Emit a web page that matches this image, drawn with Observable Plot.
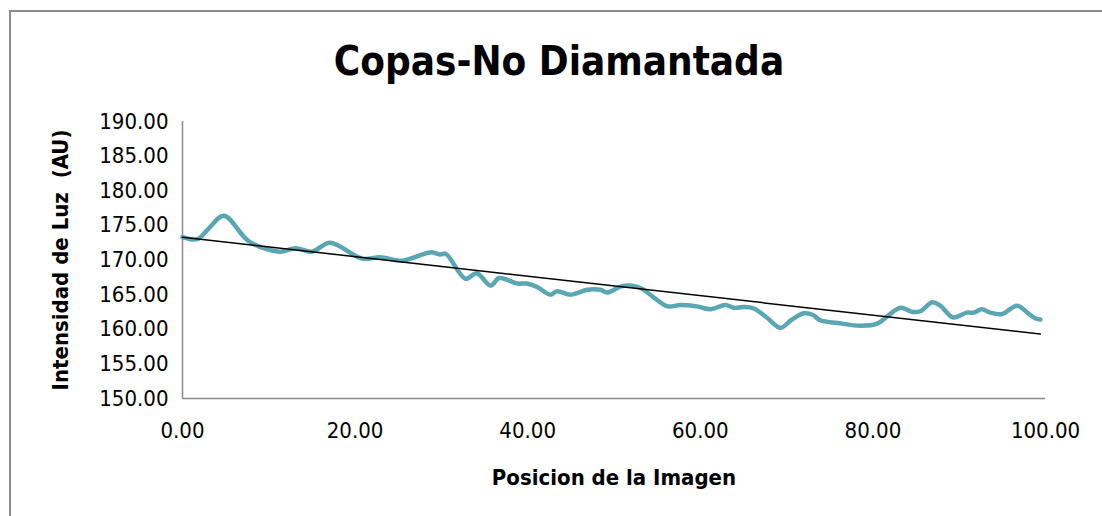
<!DOCTYPE html>
<html>
<head>
<meta charset="utf-8">
<script src="https://cdn.jsdelivr.net/npm/d3@7"></script>
<script src="https://cdn.jsdelivr.net/npm/@observablehq/plot@0.6"></script>
<style>
  html, body { margin: 0; padding: 0; background: #fff; }
  #wrap { position: relative; width: 1102px; height: 516px; overflow: hidden; background: #fff;
    font-family: "DejaVu Sans", sans-serif; font-stretch: condensed; }
  #frame { position: absolute; left: 9px; top: 10px; width: 1200px; height: 600px; border: 2px solid #8c8c8c; box-sizing: border-box; }
  #title { position: absolute; left: 0; top: 37px; width: 1118px; text-align: center; font-size: 40px; font-weight: bold; color: #000; font-stretch: condensed; line-height: 48px; }
  #chart { position: absolute; left: 0; top: 100px; }
  #chart svg text { fill: #000; font-stretch: condensed; }
  #chart g[aria-label="x-axis label"] text, #chart g[aria-label="y-axis label"] text { font-weight: bold; }
</style>
</head>
<body>
<div id="wrap">
  <div id="frame"></div>
  <div id="title">Copas-No Diamantada</div>
  <div id="chart"></div>
</div>
<script>
const positions = [0, 1.7, 3.0, 4.8, 7.7, 11.2, 13.1, 15.0, 17.1, 20.8, 22.9, 25.5, 28.7, 29.9, 30.5, 32.8, 34.1, 35.7, 36.7, 38.8, 39.9, 41.1, 42.6, 43.4, 44.9, 45.9, 46.9, 48.4, 49.2, 50.8, 52.1, 53.3, 54.6, 56.2, 57.7, 59.6, 61.2, 62.9, 63.9, 65.0, 66.2, 67.7, 69.3, 70.5, 72.0, 73.0, 73.9, 75.9, 78.6, 80.5, 81.8, 83.2, 84.6, 85.5, 86.9, 87.8, 89.3, 90.9, 91.7, 92.6, 93.6, 95.0, 96.7, 98.1, 98.8, 99.4];
const intensity = [173.3, 173.0, 174.5, 176.4, 172.7, 171.2, 171.7, 171.2, 172.5, 170.2, 170.4, 169.9, 171.1, 170.8, 170.9, 167.3, 168.1, 166.3, 167.4, 166.6, 166.6, 166.1, 165.0, 165.5, 165.0, 165.3, 165.7, 165.7, 165.3, 166.2, 166.3, 165.8, 164.6, 163.3, 163.5, 163.3, 162.9, 163.5, 163.1, 163.2, 163.0, 161.7, 160.2, 161.3, 162.3, 162.1, 161.3, 160.9, 160.5, 160.8, 162.0, 163.1, 162.5, 162.6, 163.9, 163.4, 161.7, 162.4, 162.4, 162.9, 162.4, 162.2, 163.4, 162.2, 161.6, 161.4];
const trendX = [0, 99.4];
const trendY = [173.3, 159.3];
const xTicks = [0, 20, 40, 60, 80, 100];
const yTicks = [150, 155, 160, 165, 170, 175, 180, 185, 190];

const data = positions.map((p, i) => ({x: p, y: intensity[i]}));
const trend = trendX.map((p, i) => ({x: p, y: trendY[i]}));
const fmt = d3.format(".2f");

const chart = Plot.plot({
  width: 1102,
  height: 416,
  marginLeft: 182,
  marginRight: 57,
  marginTop: 21,
  marginBottom: 118,
  style: {fontFamily: '"DejaVu Sans", sans-serif', fontSize: "22px", background: "transparent"},
  x: {domain: [0, 100], ticks: xTicks, tickFormat: fmt, tickSize: 0, tickPadding: 24,
      label: "Posicion de la Imagen", labelAnchor: "center", labelArrow: "none", labelOffset: 86},
  y: {domain: [150, 190], ticks: yTicks, tickFormat: fmt, tickSize: 0, tickPadding: 14,
      label: "Intensidad de Luz  (AU)", labelAnchor: "center", labelArrow: "none", labelOffset: 130},
  marks: [
    Plot.ruleX([0], {stroke: "#8c8c8c", strokeWidth: 1.5}),
    Plot.ruleY([150], {stroke: "#8c8c8c", strokeWidth: 1.5}),
    Plot.line(data, {x: "x", y: "y", stroke: "#5AA7B4", strokeWidth: 4.5, curve: "catmull-rom"}),
    Plot.line(trend, {x: "x", y: "y", stroke: "#000", strokeWidth: 1.5})
  ]
});
document.getElementById("chart").appendChild(chart);
</script>
</body>
</html>
